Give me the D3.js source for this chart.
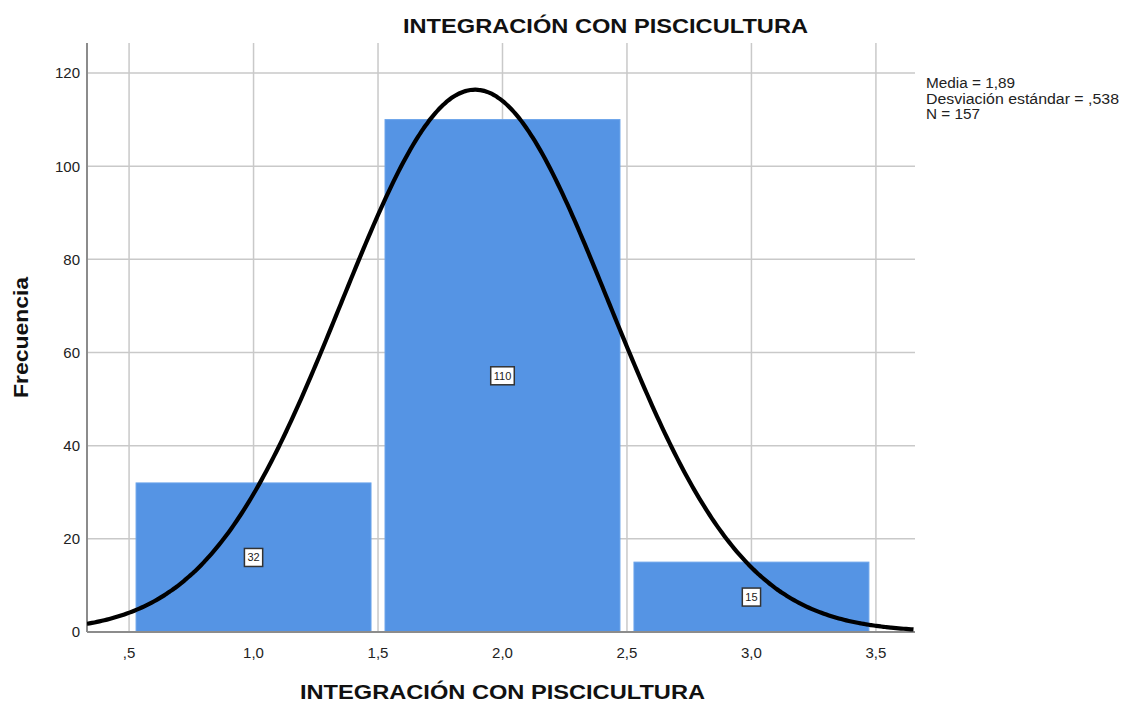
<!DOCTYPE html>
<html><head><meta charset="utf-8">
<script src="https://cdn.jsdelivr.net/npm/d3@7"></script>
<style>body{margin:0;background:#fff;font-family:"Liberation Sans",Arial,sans-serif}</style>
</head><body>
<svg id="c" width="1123" height="703"></svg>
<script>
const binStarts = [0.5, 1.5, 2.5];
const binEnds = [1.5, 2.5, 3.5];
const counts = [32, 110, 15];
const xTicks = [0.5, 1.0, 1.5, 2.0, 2.5, 3.0, 3.5];
const xTickLabels = [",5", "1,0", "1,5", "2,0", "2,5", "3,0", "3,5"];
const yTicks = [0, 20, 40, 60, 80, 100, 120];
const stats = {mean: 1.89, sd: 0.538, n: 157};
const legendLines = ["Media = 1,89", "Desviación estándar = ,538", "N = 157"];

const svg = d3.select("#c");
const L = 87, R = 915, T = 43, B = 632;
const x = d3.scaleLinear().domain([0.331, 3.657]).range([L, R]);
const y = d3.scaleLinear().domain([0, 120]).range([B, 73]);

// grid
svg.append("g").selectAll("line").data(xTicks).join("line")
  .attr("x1", d => x(d)).attr("x2", d => x(d)).attr("y1", T).attr("y2", B)
  .attr("stroke", "#c9c9c9").attr("stroke-width", 1.5);
svg.append("g").selectAll("line").data(yTicks).join("line")
  .attr("x1", L).attr("x2", R).attr("y1", d => y(d)).attr("y2", d => y(d))
  .attr("stroke", "#c9c9c9").attr("stroke-width", 1.5);

// bars
const inset = 7;
svg.append("g").selectAll("rect").data(counts).join("rect")
  .attr("x", (d, i) => x(binStarts[i]) + inset)
  .attr("width", (d, i) => x(binEnds[i]) - x(binStarts[i]) - 2 * inset)
  .attr("y", d => y(d)).attr("height", d => y(0) - y(d))
  .attr("fill", "#5594e4").attr("stroke", "#6aa3ea").attr("stroke-width", 1);

// axes lines
svg.append("line").attr("x1", L).attr("x2", L).attr("y1", T).attr("y2", B)
  .attr("stroke", "#8c8c8c").attr("stroke-width", 2);
svg.append("line").attr("x1", L).attr("x2", R).attr("y1", B).attr("y2", B)
  .attr("stroke", "#8c8c8c").attr("stroke-width", 2);

// normal curve
svg.append("clipPath").attr("id", "pc").append("rect")
  .attr("x", L).attr("y", T).attr("width", R - L).attr("height", B - T);
const pts = d3.range(0.331, 3.66, 0.01).map(v => {
  const z = (v - stats.mean) / stats.sd;
  return [v, stats.n / (stats.sd * Math.sqrt(2 * Math.PI)) * Math.exp(-0.5 * z * z)];
});
svg.append("path").datum(pts).attr("clip-path", "url(#pc)")
  .attr("d", d3.line().x(d => x(d[0])).y(d => y(d[1])).curve(d3.curveBasis))
  .attr("fill", "none").attr("stroke", "#000").attr("stroke-width", 4.2);

// bar labels
const lg = svg.append("g").selectAll("g").data(counts).join("g")
  .attr("transform", (d, i) => `translate(${x((binStarts[i] + binEnds[i]) / 2)},${y(d / 2)})`);
lg.append("text").text(d => d).attr("text-anchor", "middle").attr("dy", "0.35em")
  .attr("font-size", 11).attr("fill", "#222")
  .each(function(){ const b = this.getBBox();
    d3.select(this.parentNode).insert("rect", "text")
      .attr("x", Math.min(b.x - 3, -9)).attr("y", -9).attr("width", Math.max(b.width + 6, 18)).attr("height", 18)
      .attr("fill", "#fff").attr("stroke", "#333").attr("stroke-width", 1.5); });

// tick labels
svg.append("g").selectAll("text").data(yTicks).join("text")
  .attr("x", 80).attr("y", d => y(d)).attr("dy", "0.36em").attr("text-anchor", "end")
  .attr("font-size", 15).attr("fill", "#222").text(d => d);
svg.append("g").selectAll("text").data(xTicks).join("text")
  .attr("x", d => x(d)).attr("y", 658).attr("text-anchor", "middle")
  .attr("font-size", 15).attr("fill", "#222").text((d, i) => xTickLabels[i]);

// titles
svg.append("text").attr("x", 403).attr("y", 33)
  .attr("textLength", 405).attr("lengthAdjust", "spacingAndGlyphs")
  .attr("font-size", 21).attr("font-weight", "bold").attr("fill", "#111").text("INTEGRACIÓN CON PISCICULTURA");
svg.append("text").attr("x", 300).attr("y", 699)
  .attr("textLength", 405).attr("lengthAdjust", "spacingAndGlyphs")
  .attr("font-size", 21).attr("font-weight", "bold").attr("fill", "#111").text("INTEGRACIÓN CON PISCICULTURA");
svg.append("text").attr("transform", "translate(28,398) rotate(-90)")
  .attr("textLength", 121).attr("lengthAdjust", "spacingAndGlyphs")
  .attr("font-size", 21).attr("font-weight", "bold").attr("fill", "#111").text("Frecuencia");

// legend
const legendWidths = [89, 193, 54];
svg.append("g").selectAll("text").data(legendLines).join("text")
  .attr("x", 926).attr("y", (d, i) => 88 + i * 15.5)
  .attr("textLength", (d, i) => legendWidths[i]).attr("lengthAdjust", "spacingAndGlyphs")
  .attr("font-size", 14).attr("fill", "#222").text(d => d);
</script>
</body></html>
